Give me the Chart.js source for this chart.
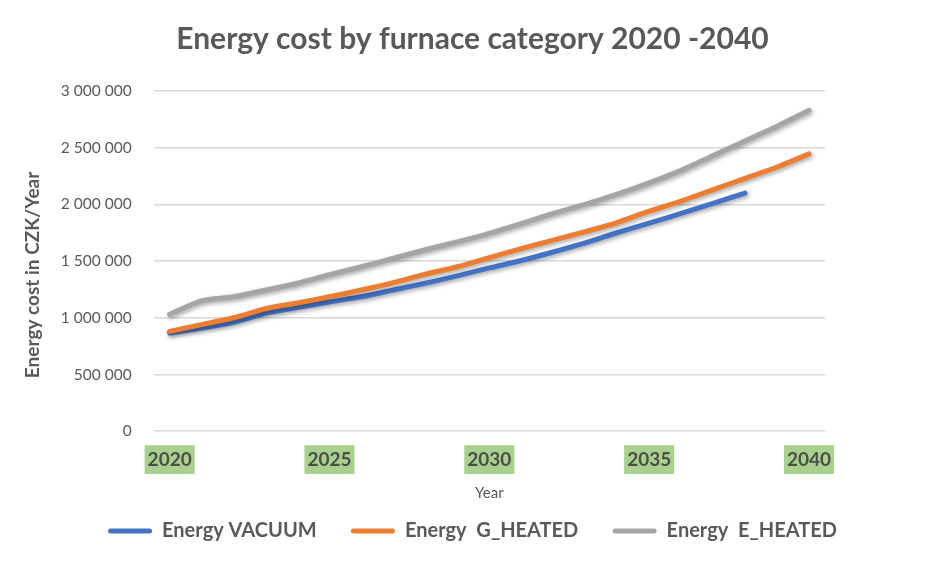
<!DOCTYPE html>
<html>
<head>
<meta charset="utf-8">
<script src="https://cdn.jsdelivr.net/npm/chart.js@4.4.1/dist/chart.umd.min.js"></script>
<style>
html,body{margin:0;padding:0;background:#fff;}
#wrap{width:945px;height:562px;position:relative;}
</style>
</head>
<body>
<div id="wrap"><canvas id="c"></canvas></div>
<script>
const years = ['2020','2021','2022','2023','2024','2025','2026','2027','2028','2029','2030','2031','2032','2033','2034','2035','2036','2037','2038','2039','2040'];
const energyVacuum = [865000, 910000, 960000, 1040000, 1090000, 1140000, 1185000, 1245000, 1305000, 1370000, 1440000, 1505000, 1580000, 1660000, 1750000, 1835000, 1920000, 2010000, 2100000, null, null];
const energyGHeated = [880000, 940000, 1000000, 1080000, 1130000, 1185000, 1245000, 1310000, 1385000, 1450000, 1530000, 1610000, 1685000, 1760000, 1840000, 1940000, 2030000, 2130000, 2230000, 2330000, 2445000];
const energyEHeated = [1030000, 1150000, 1185000, 1245000, 1305000, 1380000, 1450000, 1525000, 1600000, 1670000, 1745000, 1830000, 1920000, 2000000, 2090000, 2190000, 2300000, 2430000, 2560000, 2690000, 2830000];
const seriesNames = ['Energy VACUUM', 'Energy  G_HEATED', 'Energy  E_HEATED'];
const labeledYears = ['2020','2025','2030','2035','2040'];

const FONT = 'Lato';
const TXT = '#595959';

const layoutPlugin = {
  id: 'excelLook',
  afterLayout(chart) {
    // centre title and legend across the whole canvas
    const t = chart.titleBlock;
    if (t) { t.left = 0; t.right = chart.width; t.width = chart.width; }
    const l = chart.legend;
    if (l) { l.left = 0; l.right = chart.width; l.width = chart.width; }
  },
  beforeDatasetsDraw(chart) {
    const ctx = chart.ctx;
    ctx.save();
    ctx.shadowColor = 'rgba(0,0,0,0.35)';
    ctx.shadowBlur = 4;
    ctx.shadowOffsetX = 1.5;
    ctx.shadowOffsetY = 2;
  },
  afterDatasetsDraw(chart) {
    chart.ctx.restore();
  }
};

function fmt(v){ return String(v).replace(/\B(?=(\d{3})+(?!\d))/g, ' '); }

const colors = ['#4472C4', '#ED7D31', '#A5A5A5'];
const dataSets = [energyVacuum, energyGHeated, energyEHeated];

new Chart(document.getElementById('c'), {
  type: 'line',
  data: {
    labels: years,
    datasets: dataSets.map((d, i) => ({
      label: seriesNames[i],
      data: d,
      borderColor: colors[i],
      backgroundColor: colors[i],
      borderWidth: 5,
      pointRadius: 0,
      tension: 0.3,
      borderCapStyle: 'round',
      borderJoinStyle: 'round',
      spanGaps: false,
      order: 3 - i
    }))
  },
  options: {
    responsive: true,
    maintainAspectRatio: false,
    animation: false,
    devicePixelRatio: 1,
    layout: { padding: { left: 17, right: 120, top: 0, bottom: 11 } },
    plugins: {
      title: {
        display: true,
        text: 'Energy cost by furnace category 2020 -2040',
        color: TXT,
        font: { family: FONT, size: 30, weight: 'bold' },
        padding: { top: 21, bottom: 34 }
      },
      legend: {
        position: 'bottom',
        labels: {
          color: TXT,
          font: { family: FONT, size: 20, weight: 'bold' },
          boxWidth: 44,
          boxHeight: 5,
          padding: 10,
          useBorderRadius: true,
          borderRadius: 2.5,
          generateLabels: (chart) => {
            const items = Chart.defaults.plugins.legend.labels.generateLabels(chart);
            items.sort((a, b) => a.datasetIndex - b.datasetIndex);
            items.forEach((it, k) => { if (k < items.length - 1) it.text = it.text + '     '; it.lineWidth = 0; });
            return items;
          }
        }
      },
      tooltip: { enabled: false }
    },
    scales: {
      x: {
        offset: true,
        grid: { display: false },
        border: { display: false },
        ticks: {
          autoSkip: false,
          maxRotation: 0,
          color: '#4d4d4d',
          font: { family: FONT, size: 19, weight: 'bold' },
          padding: 9,
          callback: function(v, i) { const l = this.getLabelForValue(v); return labeledYears.includes(l) ? l : ''; },
          showLabelBackdrop: (ctx) => labeledYears.includes(years[ctx.index]),
          backdropColor: '#A9D18E',
          backdropPadding: { x: 3, y: 3 }
        },
        title: {
          display: true,
          text: 'Year',
          color: TXT,
          font: { family: FONT, size: 15 },
          padding: { top: 4, bottom: 9 }
        }
      },
      y: {
        min: 0,
        max: 3000000,
        grid: { color: '#d9d9d9', lineWidth: 1.5, drawTicks: false },
        border: { display: false },
        ticks: {
          stepSize: 500000,
          color: TXT,
          font: { family: FONT, size: 15.5 },
          padding: 22,
          callback: (v) => fmt(v)
        },
        title: {
          display: true,
          text: 'Energy cost in CZK/Year      ',
          color: TXT,
          font: { family: FONT, size: 19, weight: 'bold' },
          padding: { top: 4, bottom: -5 }
        }
      }
    }
  },
  plugins: [layoutPlugin]
});
</script>
</body>
</html>
